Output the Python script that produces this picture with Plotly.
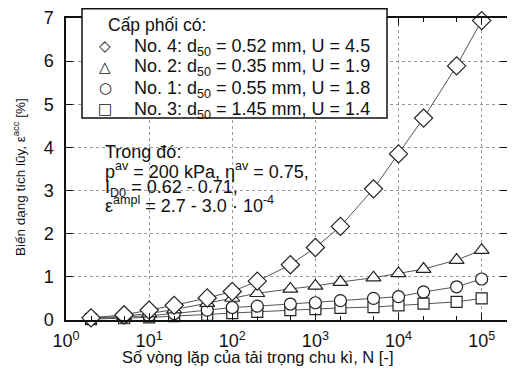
import plotly.graph_objects as go

# ---- data ----
N = [2, 5, 10, 20, 50, 100, 200, 500, 1000, 2000, 5000, 10000, 20000, 50000, 100000]
no4 = [0.05, 0.12, 0.23, 0.34, 0.51, 0.66, 0.90, 1.28, 1.68, 2.17, 3.04, 3.85, 4.68, 5.89, 6.94]
no2 = [0.04, 0.09, 0.15, 0.24, 0.39, 0.51, 0.62, 0.72, 0.79, 0.88, 0.98, 1.08, 1.18, 1.39, 1.62]
no1 = [0.03, 0.06, 0.10, 0.15, 0.23, 0.29, 0.32, 0.37, 0.40, 0.45, 0.50, 0.54, 0.65, 0.77, 0.95]
no3 = [0.02, 0.04, 0.06, 0.09, 0.12, 0.16, 0.19, 0.23, 0.25, 0.28, 0.30, 0.34, 0.38, 0.42, 0.50]

series_names = ["No. 4: d<sub>50</sub> = 0.52 mm, U = 4.5",
                "No. 2: d<sub>50</sub> = 0.35 mm, U = 1.9",
                "No. 1: d<sub>50</sub> = 0.55 mm, U = 1.8",
                "No. 3: d<sub>50</sub> = 1.45 mm, U = 1.4"]
series_vals = [no4, no2, no1, no3]
series_symbols = ["diamond", "triangle-up", "circle", "square"]
series_sizes = [14, 13, 12, 11]
key_glyphs = ["◇", "△", "○", "□"]

legend_title = "Cấp phối có:"
note_lines = ["Trong đó:",
              "p<sup>av</sup> = 200 kPa, η<sup>av</sup> = 0.75,",
              "I<sub>D0</sub> = 0.62 - 0.71,",
              "ε<sup>ampl</sup> = 2.7 - 3.0 · 10<sup>-4</sup>"]

xtick_vals = [1, 10, 100, 1000, 10000, 100000]
xtick_text = ["10<sup>0</sup>", "10<sup>1</sup>", "10<sup>2</sup>", "10<sup>3</sup>",
              "10<sup>4</sup>", "10<sup>5</sup>"]
ytick_vals = [0, 1, 2, 3, 4, 5, 6, 7]

x_title = "Số vòng lặp của tải trọng chu kì, N [-]"
y_title = "Biến dạng tích lũy, ε<sup>acc</sup> [%]"

FONT = "Liberation Sans, Arial, sans-serif"
INK = "#111111"

# page body has an 8px margin: the figure starts at (8, 8) in the window
OFF = 8
W, H = 499, 360
ml, mr, mt, mb = 66 - OFF, 0, 18 - OFF, H - (320 - OFF)
pw, ph = W - ml - mr, H - mt - mb


def px(xpix):
    return (xpix - OFF - ml) / pw


def py(ypix):
    return (H - mb - (ypix - OFF)) / ph


fig = go.Figure()

# data traces (lowest series first so upper markers sit on top)
for vals, sym, size in reversed(list(zip(series_vals, series_symbols, series_sizes))):
    fig.add_trace(go.Scatter(
        x=N, y=vals, mode="lines+markers", showlegend=False,
        line=dict(color="#555555", width=1),
        marker=dict(symbol=sym, size=size, color="white",
                    line=dict(color="#222222", width=1.2)),
        cliponaxis=False,
    ))

# ---- key box (drawn as shape + texts) ----
fig.add_shape(type="rect", xref="paper", yref="paper",
              x0=px(82), x1=px(387), y0=py(118), y1=py(8.8),
              fillcolor="white", line=dict(color=INK, width=1.5), layer="above")
fig.add_annotation(text=legend_title, xref="paper", yref="paper",
                   x=px(106), y=py(25), xanchor="left", yanchor="middle",
                   showarrow=False, font=dict(size=17.5, color=INK, family=FONT))
row_centres = [47, 68, 89, 110]
for name, glyph, yc in zip(series_names, key_glyphs, row_centres):
    fig.add_annotation(text=glyph, xref="paper", yref="paper",
                       x=px(105), y=py(yc - 1), xanchor="center", yanchor="middle",
                       showarrow=False, font=dict(size=15, color=INK, family="DejaVu Sans"))
    fig.add_annotation(text=name, xref="paper", yref="paper",
                       x=px(132), y=py(yc), xanchor="left", yanchor="middle",
                       showarrow=False, font=dict(size=18, color=INK, family=FONT))

# ---- note text ----
note_centres = [152, 170, 188, 205]
for txt, yc in zip(note_lines, note_centres):
    fig.add_annotation(text=txt, xref="paper", yref="paper",
                       x=px(103), y=py(yc), xanchor="left", yanchor="middle",
                       showarrow=False, font=dict(size=18, color=INK, family=FONT))

# ---- axis titles ----
fig.add_annotation(text=x_title, xref="paper", yref="paper",
                   x=px(257), y=py(357), xanchor="center", yanchor="middle",
                   showarrow=False, font=dict(size=16.5, color=INK, family=FONT))
fig.add_annotation(text=y_title, xref="paper", yref="paper",
                   x=px(19), y=py(177), xanchor="center", yanchor="middle",
                   textangle=-90, showarrow=False,
                   font=dict(size=13.5, color=INK, family=FONT))

fig.update_layout(
    width=W, height=H,
    margin=dict(l=ml, r=mr, t=mt, b=mb, pad=0, autoexpand=False),
    paper_bgcolor="white", plot_bgcolor="white",
    font=dict(family=FONT, size=17, color=INK),
    showlegend=False,
    xaxis=dict(
        type="log", range=[0, 5.305], automargin=False,
        tickvals=xtick_vals, ticktext=xtick_text,
        ticks="inside", ticklen=7, tickcolor=INK, ticklabelstandoff=4,
        showline=True, linecolor=INK, linewidth=1.5, mirror="ticks",
        showgrid=True, gridcolor="#9a9a9a", griddash="dot", gridwidth=1,
        minor=dict(ticks="inside", ticklen=4, tickcolor=INK, showgrid=False),
        zeroline=False,
        tickfont=dict(size=18),
    ),
    yaxis=dict(
        range=[0, 7], tickvals=ytick_vals, automargin=False,
        ticks="inside", ticklen=7, tickcolor=INK, ticklabelstandoff=7,
        showline=True, linecolor=INK, linewidth=1.5, mirror="ticks",
        showgrid=True, gridcolor="#9a9a9a", griddash="dot", gridwidth=1,
        zeroline=False,
        tickfont=dict(size=18),
    ),
)

fig.write_html("out.html")
